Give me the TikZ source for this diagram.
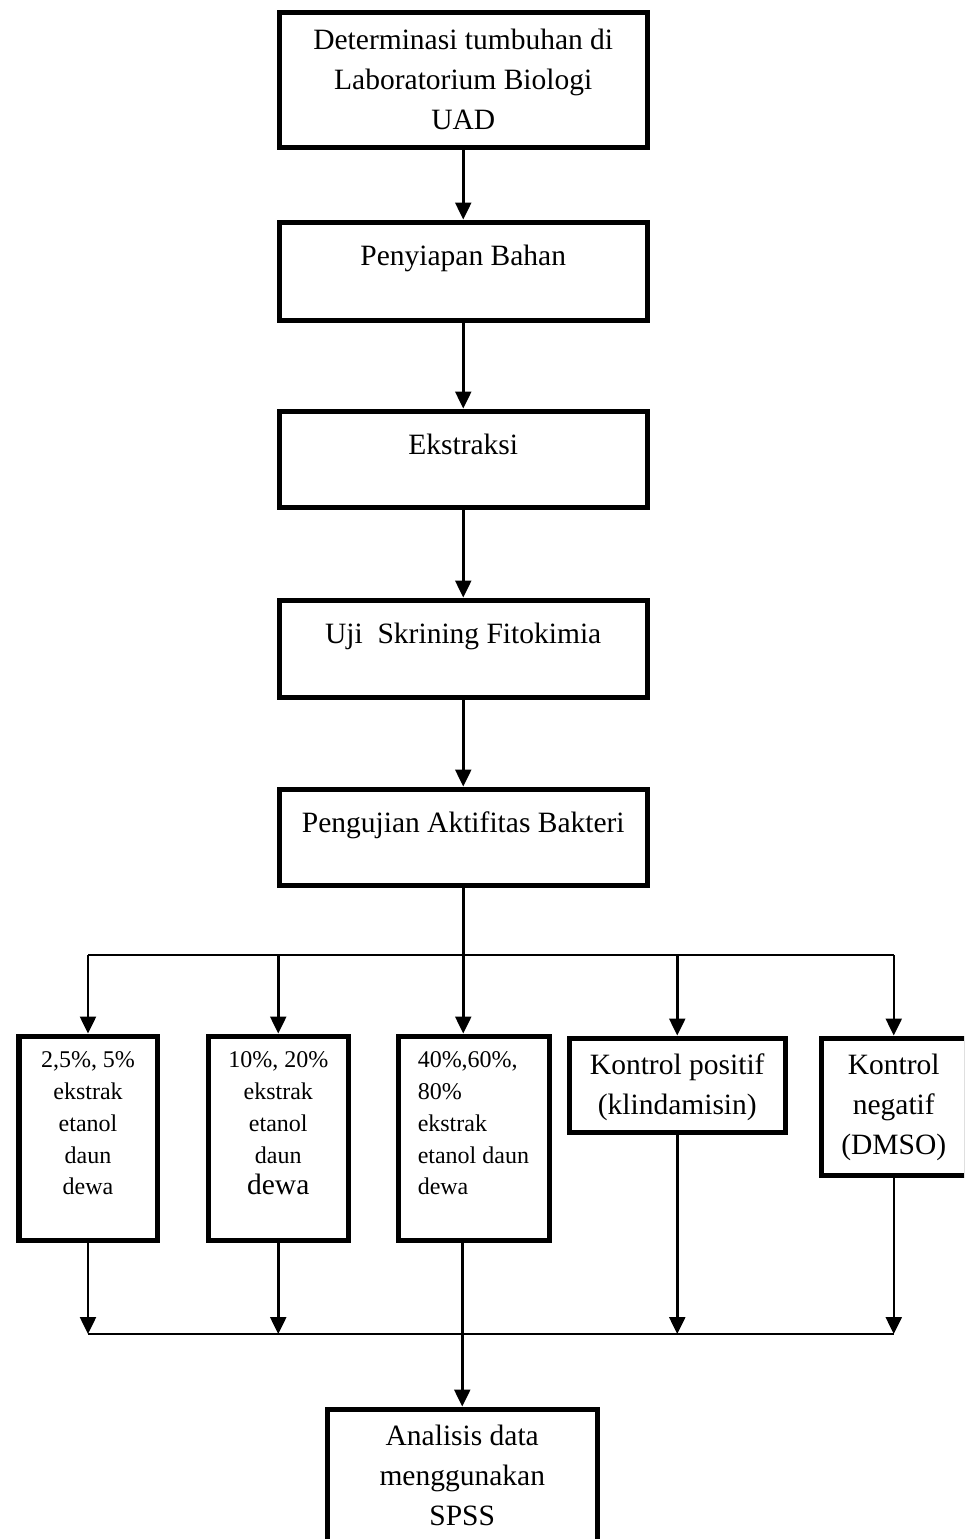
\documentclass[tikz,border=0pt]{standalone}
\usepackage{fontspec}
\setmainfont{Liberation Serif}
\usetikzlibrary{arrows.meta}
\newcommand{\bigtxt}{\fontsize{29.5}{40}\selectfont}
\newcommand{\smalltxt}{\fontsize{24}{31.75}\selectfont}
\newcommand{\boxtext}[4]{\parbox[c][#2][t]{#1}{\centering\rule{0pt}{#3}#4}}

\begin{document}
\begin{tikzpicture}[x=1pt,y=-1pt,
    stage/.style={draw, line width=5.5pt, inner sep=0pt, anchor=north west, font=\bigtxt},
    flow/.style={line width=2.5pt, -{Triangle[length=17pt,width=16pt]}},
    bar/.style={line width=2pt}]
                \useasboundingbox (0,0) rectangle (964,1539);
                \clip (0,0) rectangle (964,1539);
                % main steps
                \node[stage] (det) at (276.5,9.5) {\boxtext{368pt}{135pt}{37.5pt}{Determinasi tumbuhan di\\Laboratorium Biologi\\UAD}};
                \node[stage] (prep) at (276.5,219.5) {\boxtext{368pt}{98pt}{43.5pt}{Penyiapan Bahan}};
                \node[stage] (ext) at (276.5,408.5) {\boxtext{368pt}{96pt}{43.5pt}{Ekstraksi}};
                \node[stage] (uji) at (276.5,597.5) {\boxtext{368pt}{97pt}{43.5pt}{Uji~~Skrining Fitokimia}};
                \node[stage] (aktif) at (276.5,786.5) {\boxtext{368pt}{96pt}{43.5pt}{Pengujian Aktifitas Bakteri}};
                % treatment groups
                \node[stage, font=\smalltxt] (b1) at (16,1033.5) {\boxtext{138.5pt}{204pt}{31.5pt}{2,5\%, 5\%\\ekstrak\\etanol\\daun\\dewa}};
                \node[stage, font=\smalltxt] (b2) at (205.5,1033.5) {\boxtext{140pt}{204pt}{31.5pt}{10\%, 20\%\\ekstrak\\etanol\\daun\\{\bigtxt dewa}}};
                \node[stage, font=\smalltxt] (b3) at (395.5,1033.5) {\parbox[c][204pt][t]{151pt}{\raggedright\leftskip=19.5pt\rule{0pt}{31.5pt}40\%,60\%,\\80\%\\ekstrak\\etanol daun\\dewa}};
                \node[stage] (b4) at (566.5,1035.5) {\boxtext{216pt}{94pt}{36.5pt}{Kontrol positif\\(klindamisin)}};
                \node[stage] (b5) at (818.5,1035.5) {\boxtext{145pt}{137pt}{36.5pt}{Kontrol\\negatif\\(DMSO)}};
                \node[stage] (spss) at (324.5,1406.5) {\boxtext{270pt}{200pt}{36.5pt}{Analisis data\\menggunakan\\SPSS}};
                % connectors
                \draw[flow] (det) -- (prep);
                \draw[flow] (prep) -- (ext);
                \draw[flow] (ext) -- (uji);
                \draw[flow] (uji) -- (aktif);
                \coordinate (split) at (460,955);
                \coordinate (join) at (460,1334);
                \draw[bar] (b1.north |- split) -- (b5.north |- split);
                \draw[flow] (aktif.south) -- (aktif.south |- b3.north);
                \foreach \b in {b1,b2,b4,b5}
                    \draw[flow] (\b.north |- split) -- (\b.north);
                \foreach \b in {b1,b2,b4,b5}
                    \draw[flow] (\b.south) -- (\b.south |- join);
                \draw[bar] (b1.south |- join) -- (b5.south |- join);
                \draw[flow] (spss.north |- b3.south) -- (spss.north);
            \end{tikzpicture}
\end{document}
